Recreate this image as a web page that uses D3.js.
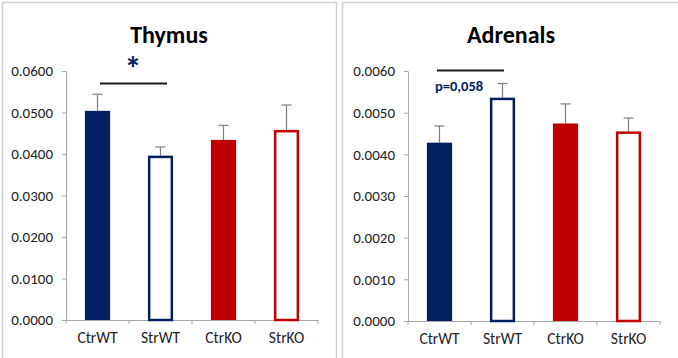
<!DOCTYPE html>
<html>
<head>
<meta charset="utf-8">
<script src="https://cdn.jsdelivr.net/npm/d3@7"></script>
<style>
  body { margin: 0; background: #fff; }
  text { font-family: Calibri, Carlito, "Open Sans", sans-serif; }
</style>
</head>
<body>
<script>
// data
var groups = ["CtrWT", "StrWT", "CtrKO", "StrKO"];
var thymusMean = [0.0504, 0.0396, 0.0434, 0.0458];
var thymusErr = [0.0040, 0.0021, 0.0035, 0.0060];
var thymusTicks = [0, 0.01, 0.02, 0.03, 0.04, 0.05, 0.06];
var adrenalsMean = [0.00428, 0.00536, 0.00474, 0.00455];
var adrenalsErr = [0.00040, 0.00034, 0.00047, 0.00032];
var adrenalsTicks = [0, 0.001, 0.002, 0.003, 0.004, 0.005, 0.006];

var navy = "#002060", red = "#c00000";
var barFill = [navy, "#fff", red, "#fff"];
var barStroke = [navy, navy, red, red];
var font = "Calibri, Carlito, 'Open Sans', sans-serif";

var svg = d3.select("body").append("svg")
    .attr("width", 678)
    .attr("height", 358);

// panel frames
svg.append("path")
    .attr("d", "M2.5,358V2.5H336.5V358")
    .attr("fill", "none").attr("stroke", "#d0d0d0").attr("stroke-width", 1.5);
svg.append("path")
    .attr("d", "M342.5,358V2.5H678")
    .attr("fill", "none").attr("stroke", "#d0d0d0").attr("stroke-width", 1.5);

function drawPanel(opts) {
    var g = svg.append("g");
    var x = d3.scaleBand().domain(groups).range([opts.left, opts.left + 252]).paddingInner(0.6).paddingOuter(0.3);
    var xb = d3.scaleBand().domain(groups).range([opts.left, opts.left + 252]);
    var y = d3.scaleLinear().domain([0, opts.ymax]).range([opts.bottom, 71]);

    g.append("text")
        .attr("x", opts.titleX).attr("y", 43)
        .attr("text-anchor", "middle")
        .attr("font-size", 24).attr("font-weight", "bold")
        .attr("fill", "#000")
        .text(opts.title);

    // y axis
    var ya = g.append("g")
        .attr("transform", "translate(" + opts.left + ",0)")
        .call(d3.axisLeft(y).tickValues(opts.ticks).tickFormat(d3.format(".4f")).tickSize(4).tickSizeOuter(0));
    ya.select(".domain").attr("stroke", "#a6a6a6");
    ya.selectAll(".tick line").attr("stroke", "#a6a6a6");
    ya.selectAll("text").attr("font-size", 15).attr("fill", "#222").attr("dx", "-6")
        .style("font-family", font);

    // x axis
    var xa = g.append("g")
        .attr("transform", "translate(0," + opts.bottom + ")")
        .call(d3.axisBottom(xb).tickSize(0).tickSizeOuter(0));
    xa.select(".domain").attr("stroke", "#a6a6a6");
    xa.selectAll("text").attr("font-size", 15.5).attr("fill", "#222")
        .attr("y", 0).attr("dy", 0).attr("transform", "translate(0,23)")
        .style("font-family", font);
    g.selectAll(".xsep")
        .data(d3.range(5))
        .enter().append("line")
        .attr("x1", function (i) { return opts.left + i * xb.step(); })
        .attr("x2", function (i) { return opts.left + i * xb.step(); })
        .attr("y1", opts.bottom).attr("y2", opts.bottom + 4)
        .attr("stroke", "#a6a6a6");

    // error bars
    var eb = g.selectAll(".err").data(groups).enter().append("g");
    eb.append("line")
        .attr("x1", function (d) { return x(d) + x.bandwidth() / 2; })
        .attr("x2", function (d) { return x(d) + x.bandwidth() / 2; })
        .attr("y1", function (d, i) { return y(opts.mean[i]); })
        .attr("y2", function (d, i) { return y(opts.mean[i] + opts.err[i]); })
        .attr("stroke", "#7f7f7f").attr("stroke-width", 1.2);
    eb.append("line")
        .attr("x1", function (d) { return x(d) + x.bandwidth() / 2 - 5; })
        .attr("x2", function (d) { return x(d) + x.bandwidth() / 2 + 5; })
        .attr("y1", function (d, i) { return y(opts.mean[i] + opts.err[i]); })
        .attr("y2", function (d, i) { return y(opts.mean[i] + opts.err[i]); })
        .attr("stroke", "#7f7f7f").attr("stroke-width", 1.2);

    // bars
    g.selectAll(".bar").data(groups).enter().append("rect")
        .attr("x", function (d, i) { return x(d) + (barFill[i] === "#fff" ? 1.25 : 0); })
        .attr("width", function (d, i) { return x.bandwidth() - (barFill[i] === "#fff" ? 2.5 : 0); })
        .attr("y", function (d, i) { return y(opts.mean[i]) + (barFill[i] === "#fff" ? 1.25 : 0); })
        .attr("height", function (d, i) { return opts.bottom - y(opts.mean[i]) - (barFill[i] === "#fff" ? 1.25 : 0); })
        .attr("fill", function (d, i) { return barFill[i]; })
        .attr("stroke", function (d, i) { return barFill[i] === "#fff" ? barStroke[i] : "none"; })
        .attr("stroke-width", 2.5);

    // significance bracket
    g.append("line")
        .attr("x1", opts.sig[0]).attr("x2", opts.sig[1])
        .attr("y1", opts.sig[2]).attr("y2", opts.sig[2])
        .attr("stroke", "#1a1a1a").attr("stroke-width", 2);
    g.append("text")
        .attr("x", opts.sigText[0]).attr("y", opts.sigText[1])
        .attr("text-anchor", opts.sigText[3])
        .attr("font-size", opts.sigText[2]).attr("font-weight", "bold")
        .attr("fill", navy)
        .text(opts.sigLabel);
}

drawPanel({
    title: "Thymus", titleX: 169, left: 66, bottom: 320, ymax: 0.06,
    ticks: thymusTicks, mean: thymusMean, err: thymusErr,
    sig: [100, 167, 83.5], sigText: [133, 80, 34, "middle"], sigLabel: "*"
});
drawPanel({
    title: "Adrenals", titleX: 511, left: 408, bottom: 321, ymax: 0.006,
    ticks: adrenalsTicks, mean: adrenalsMean, err: adrenalsErr,
    sig: [437, 504, 70.5], sigText: [435, 91, 14.5, "start"], sigLabel: "p=0,058"
});
</script>
</body>
</html>
